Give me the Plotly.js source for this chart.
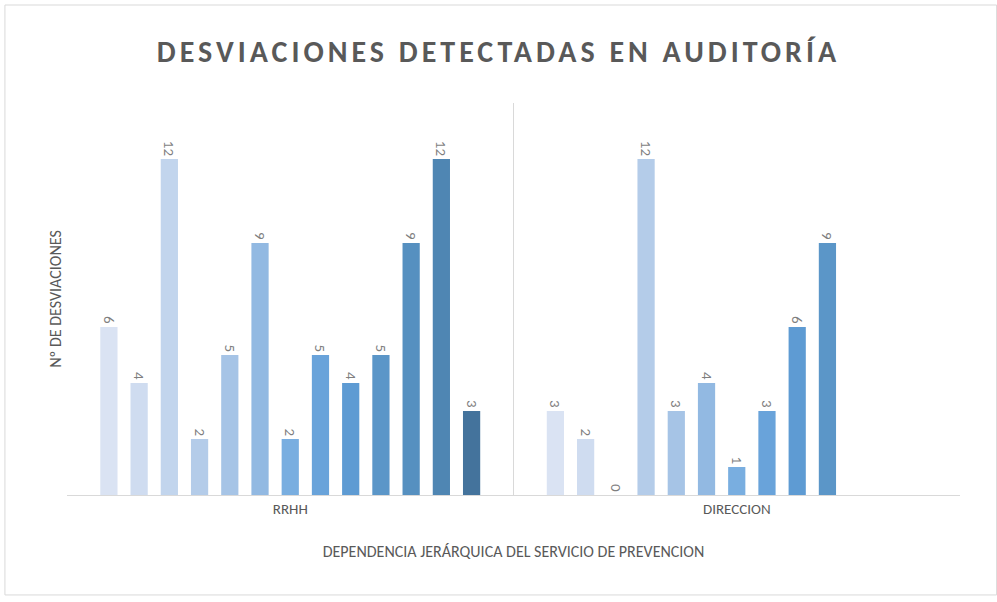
<!DOCTYPE html>
<html>
<head>
<meta charset="utf-8">
<script src="https://cdn.plot.ly/plotly-3.0.1.min.js"></script>
<style>
body { margin: 0; }
#chart { width: 997px; height: 602px; }
.gtitle { letter-spacing: 4px; }
</style>
</head>
<body>
<div id="chart"></div>
<script>
var categories = ['RRHH', 'DIRECCION'];
var rrhh = [6, 4, 12, 2, 5, 9, 2, 5, 4, 5, 9, 12, 3];
var direccion = [3, 2, 0, 12, 3, 4, 1, 3, 6, 9, null, null, null];
var colors = ['#dae3f3', '#cfdcf0', '#c2d5ed', '#b4cce9', '#a6c4e6', '#92b9e2',
              '#79aee0', '#69a3da', '#5e9bd3', '#5b96c8', '#5690c0', '#4f86b3', '#44739c'];

var data = [];
for (var i = 0; i < rrhh.length; i++) {
  var vals = [rrhh[i], direccion[i]];
  data.push({
    x: categories,
    y: vals,
    type: 'bar',
    name: 'S' + (i + 1),
    marker: { color: colors[i] },
    text: vals.map(function (v) { return v === null ? '' : String(v); }),
    textposition: 'outside',
    textangle: 90,
    cliponaxis: false,
    textfont: { family: 'Calibri, Carlito, Liberation Sans, sans-serif', size: 15, color: '#7f7f7f' },
    hoverinfo: 'none'
  });
}

var layout = {
  width: 997,
  height: 602,
  margin: { l: 67, r: 37, t: 103, b: 107 },
  paper_bgcolor: '#ffffff',
  plot_bgcolor: '#ffffff',
  showlegend: false,
  barmode: 'group',
  bargap: 0.12,
  bargroupgap: 0.43,
  font: { family: 'Calibri, Carlito, Liberation Sans, sans-serif', color: '#595959' },
  title: {
    text: '<b>DESVIACIONES DETECTADAS EN AUDITORÍA</b>',
    font: { size: 30, color: '#595959', family: 'Calibri, Carlito, Open Sans, sans-serif' },
    x: 0.5, xanchor: 'center', y: 0.915, yanchor: 'middle'
  },
  xaxis: {
    type: 'category',
    range: [-0.5, 1.5],
    showline: true,
    linecolor: '#d9d9d9',
    ticks: '',
    tickfont: { size: 15, color: '#595959' },
    title: { text: 'DEPENDENCIA JERÁRQUICA DEL SERVICIO DE PREVENCION', font: { size: 16, color: '#595959' }, standoff: 28 }
  },
  yaxis: {
    range: [0, 14],
    showgrid: false,
    zeroline: false,
    showticklabels: false,
    showline: false,
    title: { text: 'Nº DE DESVIACIONES', font: { size: 16, color: '#595959' }, standoff: 0 }
  },
  shapes: [
    { type: 'line', xref: 'x', yref: 'paper', x0: 0.5, x1: 0.5, y0: 0, y1: 1, line: { color: '#d9d9d9', width: 1 } },
    { type: 'rect', xref: 'paper', yref: 'paper', x0: -0.0695, x1: 1.041, y0: -0.255, y1: 1.25, line: { color: '#d9d9d9', width: 1 } }
  ]
};

Plotly.newPlot('chart', data, layout, { displayModeBar: false });
</script>
</body>
</html>
